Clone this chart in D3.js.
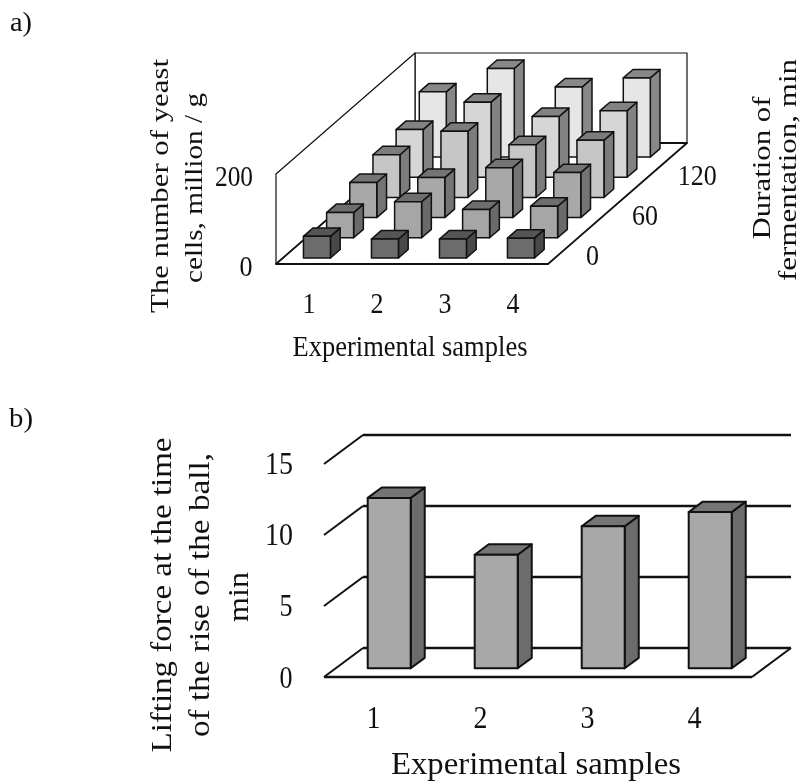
<!DOCTYPE html>
<html><head><meta charset="utf-8">
<script src="https://cdn.jsdelivr.net/npm/d3@7"></script>
<style>html,body{margin:0;padding:0;background:#fff}svg{display:block;filter:blur(0.55px)}text{font-family:"Liberation Serif",serif;fill:#111}</style>
</head><body><svg id="c" width="802" height="782"></svg>
<script>
const samples=["1","2","3","4"];
const durations=["0","30","60","90","120","150"];
const durationLabels=["0","60","120"];
const cellValues=[
 [48,42,42,44],
 [56,80,63,70],
 [78,89,111,100],
 [95,147,117,127],
 [106,167,135,148],
 [145,197,156,176]];
const cellTicks=[0,200];
const liftValues=[12,8,10,11];
const liftTicks=[0,5,10,15];
const rowFill=["#6c6c6c","#a6a6a6","#a8a8a8","#c6c6c6","#d6d6d6","#e6e6e6"];
const rowTop=["#555555","#6e6e6e","#747474","#7c7c7c","#828282","#888888"];
const rowSide=["#484848","#6a6a6a","#747474","#7c7c7c","#828282","#888888"];

const svg=d3.select("#c");
function label(t,x,y,size,len,rot){
  const s=svg.append("text").attr("text-anchor","middle").attr("dominant-baseline","central")
   .attr("font-size",size).attr("transform",`translate(${x},${y})`+(rot?` rotate(-90)`:"")).text(t);
  if(len) s.attr("textLength",len).attr("lengthAdjust","spacingAndGlyphs");
}
function poly(g,pts,fill,sw){
  g.append("polygon").attr("points",pts.map(p=>p.join(",")).join(" "))
   .attr("fill",fill).attr("stroke","#111").attr("stroke-width",sw).attr("stroke-linejoin","round");
}
label("a)",21,22,27,22);
label("b)",21,418,27,24);

/* ---- chart a ---- */
{
 const ox=276,oy=264,depX=139,depY=121;
 const x=d3.scaleBand().domain(samples).range([0,272]);
 const d=d3.scaleBand().domain(durations).range([0,1]);
 const z=d3.scaleLinear().domain([0,200]).range([0,90]);
 const P=(px,dp,v)=>[ox+px+dp*depX,oy-dp*depY-z(v)];
 const g=svg.append("g");
 const zm=z.domain()[1];
 poly(g,[P(0,1,0),P(272,1,0),P(272,1,zm),P(0,1,zm)],"#fff",1.2);
 poly(g,[P(0,0,0),P(0,1,0),P(0,1,zm),P(0,0,zm)],"#fff",1.2);
 poly(g,[P(0,0,0),P(272,0,0),P(272,1,0),P(0,1,0)],"#fff",1.8);
 const bw=27, gap=x.bandwidth();
 durations.slice().reverse().forEach(r=>{
  const i=durations.indexOf(r);
  const d0=d(r)+d.bandwidth()*0.3, d1=d0+d.bandwidth()*0.42;
  samples.forEach((s,j)=>{
   const v=cellValues[i][j];
   const l=x(s)+(gap-bw)/2, rr=l+bw;
   poly(g,[P(rr,d0,0),P(rr,d1,0),P(rr,d1,v),P(rr,d0,v)],rowSide[i],1.5);
   poly(g,[P(l,d0,v),P(rr,d0,v),P(rr,d1,v),P(l,d1,v)],rowTop[i],1.5);
   poly(g,[P(l,d0,0),P(rr,d0,0),P(rr,d0,v),P(l,d0,v)],rowFill[i],1.5);
  });
 });
 cellTicks.forEach(t=>label(String(t),t?234:246,oy-z(t)+1,30,t?38:13));
 samples.forEach(s=>label(s,ox+x(s)+x.bandwidth()/2-1,302,30,13));
 durationLabels.forEach(t=>{
  const dp=d(t)+d.bandwidth()/2;
  label(t,ox+272+dp*depX+33+(t.length-1)*6,oy-dp*depY+1,30,t.length*13);
 });
 label("Experimental samples",410,345,30,235);
 label("The number of yeast",159,186,26,254,true);
 label("cells, million / g",193,188,26,190,true);
 label("Duration of",761,168,26,143,true);
 label("fermentation, min",787,170,26,222,true);
}
/* ---- chart b ---- */
{
 const ox=324,oy=677,depX=39,depY=29;
 const W=428;
 const x=d3.scaleBand().domain(samples).range([0,W]);
 const y=d3.scaleLinear().domain([0,15]).range([0,213]);
 const P=(px,dp,v)=>[ox+px+dp*depX,oy-dp*depY-y(v)];
 const g=svg.append("g");
 const line=(a,b,w)=>g.append("line").attr("x1",a[0]).attr("y1",a[1]).attr("x2",b[0]).attr("y2",b[1]).attr("stroke","#111").attr("stroke-width",w);
 liftTicks.forEach(t=>{
  line(P(0,0,t),P(0,1,t),2);
  line(P(0,1,t),P(W,1,t),2.5);
  label(String(t),t>=10?279:286,oy-y(t)+(t?-1:0),32,t>=10?28:13);
 });
 line(P(0,0,0),P(W,0,0),2.5);
 line(P(W,0,0),P(W,1,0),2);
 const bw=43;
 samples.forEach((s,j)=>{
  const v=liftValues[j];
  const l=x(s)+(x.bandwidth()-bw)/2, r=l+bw;
  const d0=0.3,d1=0.66;
  poly(g,[P(r,d0,0),P(r,d1,0),P(r,d1,v),P(r,d0,v)],"#6c6c6c",2);
  poly(g,[P(l,d0,v),P(r,d0,v),P(r,d1,v),P(l,d1,v)],"#757575",2);
  poly(g,[P(l,d0,0),P(r,d0,0),P(r,d0,v),P(l,d0,v)],"#a8a8a8",2);
  label(s,ox+x(s)+x.bandwidth()/2-4,717,32,14);
 });
 label("Experimental samples",536,763,32,290);
 label("Lifting force at the time",160,595,30,315,true);
 label("of the rise of the ball,",198,595,30,284,true);
 label("min",237,597,30,50,true);
}
</script></body></html>
